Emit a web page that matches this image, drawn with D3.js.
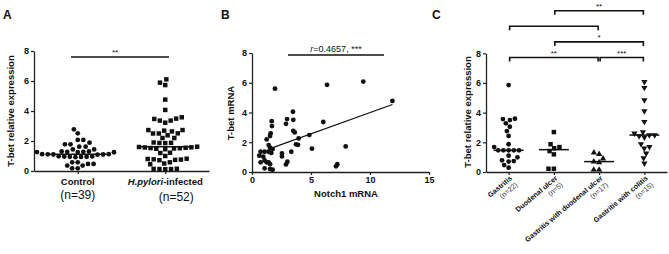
<!DOCTYPE html>
<html>
<head>
<meta charset="utf-8">
<script src="https://cdn.jsdelivr.net/npm/d3@7"></script>
<style>
  body { margin: 0; background: #fff; }
  text { font-family: "Liberation Sans", Arial, sans-serif; fill: #111; }
</style>
</head>
<body>
<script>
// ---- data ----
// panel A
var aCategories = ["Control", "H.pylori-infected"];
var aCounts = ["(n=39)", "(n=52)"];
var controlValues = [2.78, 2.51, 2.07, 2.07, 1.89, 1.78, 1.78, 1.62, 1.62, 1.44, 1.44,
    1.3, 1.3, 1.28, 1.28, 1.26, 1.26, 1.25,
    1.12, 1.12, 1.11, 1.1, 1.1, 1.09,
    0.98, 0.97, 0.96, 0.95, 0.95, 0.94, 0.92,
    0.58, 0.58, 0.47, 0.47, 0.36, 0.36, 0.18, 0.18];
var hpyloriValues = [6.11, 5.89, 5.73, 4.76, 4.07,
    3.58, 3.49, 3.47, 3.36, 3.36, 3.22,
    2.73, 2.73, 2.69, 2.64, 2.51, 2.5, 2.5, 2.38, 2.2, 2.2,
    1.9, 1.88, 1.87, 1.86,
    1.62, 1.6, 1.58, 1.57, 1.55, 1.53, 1.52, 1.5, 1.48, 1.45,
    1.22, 1.2, 1.0,
    0.82, 0.8, 0.78, 0.76, 0.74, 0.72,
    0.58, 0.5, 0.45,
    0.15, 0.14, 0.13, 0.13, 0.12];
var aSignif = "**";

// panel B
var notch1 = [1.95, 6.36, 9.43, 11.9, 3.47, 1.67, 2.97, 2.88, 3.5, 1.69, 6.04, 3.5, 3.62, 1.58, 1.53,
    4.86, 3.95, 1.24, 3.73, 3.9, 5.08, 7.94, 1.41, 1.53, 1.75, 1.41, 1.64, 1.07, 0.73, 0.62,
    0.96, 2.54, 2.54, 3.33, 3.0, 2.88, 0.73, 1.07, 1.24, 1.41, 1.53, 1.07, 1.53, 1.75, 7.23, 7.12];
var tbet = [5.6, 5.86, 6.08, 4.78, 4.05, 3.42, 3.56, 3.24, 3.51, 3.09, 3.36, 2.77, 2.66, 2.6, 2.42,
    2.48, 2.26, 2.19, 1.86, 1.83, 1.57, 1.72, 1.81, 1.63, 1.54, 1.36, 1.28, 1.36, 1.36, 1.1,
    1.03, 1.25, 1.05, 1.36, 0.69, 0.51, 0.65, 0.78, 0.65, 0.65, 0.52, 0.25, 0.2, 0.15, 0.52, 0.38];
var regX = [1.7, 11.9];
var regY = [1.62, 4.54];
var bXTicks = [0, 5, 10, 15];
var bLabel = "=0.4657, ***";

// panel C
var cCategories = ["Gastritis", "Duodenal ulcer", "Gastritis with duodenal ulcer", "Gastritis with colitis"];
var cCounts = ["(n=22)", "(n=5)", "(n=17)", "(n=15)"];
var gastritisValues = [5.86, 3.59, 3.57, 3.5, 3.28, 3.05, 2.76, 2.43, 1.87, 1.68,
    1.46, 1.46, 1.46, 1.46, 1.46, 1.1, 0.99, 0.79, 0.74, 0.7, 0.47, 0.29];
var duodenalValues = [2.69, 1.87, 1.68, 1.6, 1.41, 1.19, 0.22, 0.22];
var gwduValues = [1.3, 1.2, 0.9, 0.7, 0.65, 0.15, 0.15];
var gwcValues = [6.08, 5.68, 4.85, 4.11, 3.39, 2.69, 2.6, 2.49, 2.49, 2.42, 2.34,
    1.89, 1.7, 1.6, 1.26, 0.94, 0.58];
// [from, to, label, row]
var cBrackets = [[0, 2, "**", 0], [2, 3, "***", 0], [1, 3, "*", 1], [0, 2, "", 2], [1, 3, "**", 3]];

var yTicks = [0, 2, 4, 6, 8];

// ---- drawing ----
var svg = d3.select("body").append("svg")
    .attr("width", 669)
    .attr("height", 254);
svg.append("rect").attr("width", 669).attr("height", 254).attr("fill", "#fff");

// simple beeswarm: place each point as close to the centre as it can go
function swarm(values, y, diam) {
    var pts = values.map(function (v) { return { v: v, py: y(v), dx: 0 }; })
        .sort(function (a, b) { return a.v - b.v; });
    var placed = [];
    pts.forEach(function (p) {
        var ints = [];
        placed.forEach(function (q) {
            var dy = Math.abs(q.py - p.py);
            if (dy < diam) {
                var w = Math.sqrt(diam * diam - dy * dy);
                ints.push([q.dx - w, q.dx + w]);
            }
        });
        var cands = [0];
        ints.forEach(function (i) { cands.push(i[0], i[1]); });
        cands.sort(function (a, b) { return Math.abs(a) - Math.abs(b) || a - b; });
        for (var k = 0; k < cands.length; k++) {
            var c = cands[k];
            var ok = ints.every(function (i) { return c <= i[0] + 0.01 || c >= i[1] - 0.01; });
            if (ok) { p.dx = c; break; }
        }
        placed.push(p);
    });
    return pts;
}

function styleAxis(g) {
    g.select(".domain").attr("stroke", "#222").attr("stroke-width", 1.3);
    g.selectAll(".tick line").attr("stroke", "#222").attr("stroke-width", 1.2);
    g.selectAll(".tick text").attr("font-size", 9).attr("font-weight", "bold")
        .attr("font-family", "Liberation Sans, Arial, sans-serif").attr("fill", "#111");
}

function yTitle(x, y, txt) {
    svg.append("text")
        .attr("transform", "translate(" + x + "," + y + ") rotate(-90)")
        .attr("text-anchor", "middle")
        .attr("font-size", 9.5).attr("font-weight", "bold")
        .text(txt);
}

function panelLetter(x, y, t) {
    svg.append("text").attr("x", x).attr("y", y)
        .attr("font-size", 12).attr("font-weight", "bold").text(t);
}

var symCircle = d3.symbol().type(d3.symbolCircle).size(18);
var symSquare = d3.symbol().type(d3.symbolSquare).size(20);
var symTri = d3.symbol().type(d3.symbolTriangle).size(17);

function drawGroup(values, cx, y, sym, diam, rot, medHalf) {
    var pts = swarm(values, y, diam);
    svg.append("g").selectAll("path").data(pts).enter().append("path")
        .attr("d", sym)
        .attr("transform", function (d) {
            return "translate(" + (cx + d.dx) + "," + d.py + ")" + (rot ? " rotate(" + rot + ")" : "");
        })
        .attr("fill", "#111");
    var m = d3.median(values);
    svg.append("line")
        .attr("x1", cx - medHalf).attr("x2", cx + medHalf)
        .attr("y1", y(m)).attr("y2", y(m))
        .attr("stroke", "#111").attr("stroke-width", 1.5);
}

// ===== Panel A =====
var yA = d3.scaleLinear().domain([0, 8]).range([171, 51]);
var xA = d3.scalePoint().domain(aCategories).range([34, 209]).padding(0.5);

svg.append("g").attr("transform", "translate(34,0)")
    .call(d3.axisLeft(yA).tickValues(yTicks).tickSize(3).tickSizeOuter(0).tickPadding(2))
    .call(styleAxis);
svg.append("g").attr("transform", "translate(0,171)")
    .call(d3.axisBottom(xA).tickSize(3).tickSizeOuter(0).tickFormat(""))
    .call(styleAxis);

drawGroup(controlValues, xA(aCategories[0]), yA, symCircle, 5.6, 0, 29);
drawGroup(hpyloriValues, xA(aCategories[1]), yA, symSquare, 5.8, 0, 28);

yTitle(14, 111, "T-bet relative expression");
panelLetter(3, 19, "A");

svg.append("text").attr("x", xA(aCategories[0])).attr("y", 185)
    .attr("text-anchor", "middle").attr("font-size", 9.5).attr("font-weight", "bold")
    .text(aCategories[0]);
var hl = svg.append("text").attr("x", xA(aCategories[1])).attr("y", 185)
    .attr("text-anchor", "middle").attr("font-size", 9.5).attr("font-weight", "bold");
hl.append("tspan").attr("font-style", "italic").text(aCategories[1].split("-")[0]);
hl.append("tspan").text("-" + aCategories[1].split("-")[1]);

svg.append("text").attr("x", xA(aCategories[0])).attr("y", 199)
    .attr("text-anchor", "middle").attr("font-size", 12).attr("fill", "#333").text(aCounts[0]);
svg.append("text").attr("x", xA(aCategories[1]) + 11).attr("y", 201)
    .attr("text-anchor", "middle").attr("font-size", 12).attr("fill", "#333").text(aCounts[1]);

svg.append("line").attr("x1", 71).attr("x2", 169).attr("y1", 57).attr("y2", 57)
    .attr("stroke", "#111").attr("stroke-width", 1.6);
svg.append("text").attr("x", 115).attr("y", 55).attr("text-anchor", "middle")
    .attr("font-size", 8).text(aSignif);

// ===== Panel B =====
var yB = d3.scaleLinear().domain([0, 8]).range([172, 53]);
var xB = d3.scaleLinear().domain([0, 15]).range([252, 429]);

svg.append("g").attr("transform", "translate(252,0)")
    .call(d3.axisLeft(yB).tickValues(yTicks).tickSize(3).tickSizeOuter(0).tickPadding(2))
    .call(styleAxis);
svg.append("g").attr("transform", "translate(0,172)")
    .call(d3.axisBottom(xB).tickValues(bXTicks).tickSize(3).tickSizeOuter(0).tickPadding(2))
    .call(styleAxis);

svg.append("g").selectAll("circle").data(notch1).enter().append("circle")
    .attr("cx", function (d) { return xB(d); })
    .attr("cy", function (d, i) { return yB(tbet[i]); })
    .attr("r", 2.4)
    .attr("fill", "#111");

svg.append("line")
    .attr("x1", xB(regX[0])).attr("y1", yB(regY[0]))
    .attr("x2", xB(regX[1])).attr("y2", yB(regY[1]))
    .attr("stroke", "#111").attr("stroke-width", 1.2);

yTitle(234, 113, "T-bet mRNA");
svg.append("text").attr("x", 346).attr("y", 197).attr("text-anchor", "middle")
    .attr("font-size", 9.5).attr("font-weight", "bold").text("Notch1 mRNA");
panelLetter(221, 19, "B");

svg.append("line").attr("x1", 288).attr("x2", 384).attr("y1", 55).attr("y2", 55)
    .attr("stroke", "#111").attr("stroke-width", 1.6);
var rl = svg.append("text").attr("x", 336).attr("y", 52).attr("text-anchor", "middle")
    .attr("font-size", 9);
rl.append("tspan").attr("font-style", "italic").text("r");
rl.append("tspan").text(bLabel);

// ===== Panel C =====
var yC = d3.scaleLinear().domain([0, 8]).range([172, 53.3]);
var xC = d3.scalePoint().domain(cCategories).range([486, 667]).padding(0.5);

svg.append("g").attr("transform", "translate(486,0)")
    .call(d3.axisLeft(yC).tickValues(yTicks).tickSize(3).tickSizeOuter(0).tickPadding(2))
    .call(styleAxis);
svg.append("g").attr("transform", "translate(0,172)")
    .call(d3.axisBottom(xC).tickSize(3).tickSizeOuter(0).tickFormat(""))
    .call(styleAxis);

drawGroup(gastritisValues, xC(cCategories[0]), yC, symCircle, 5.2, 0, 15);
drawGroup(duodenalValues, xC(cCategories[1]), yC, symSquare, 5.4, 0, 15);
drawGroup(gwduValues, xC(cCategories[2]), yC, symTri, 5.4, 0, 15);
drawGroup(gwcValues, xC(cCategories[3]), yC, symTri, 5.4, 180, 15);

yTitle(471, 112, "T-bet relative expression");
panelLetter(432, 19, "C");

// rotated two-line category labels
cCategories.forEach(function (c, i) {
    var t = svg.append("text")
        .attr("transform", "translate(" + (xC(c) + 4) + ",179) rotate(-40)")
        .attr("text-anchor", "end")
        .attr("font-size", 7.2);
    t.append("tspan").attr("x", 0).attr("dy", 0).attr("font-weight", "bold").text(c);
    t.append("tspan").attr("x", 0).attr("dy", "1.2em").attr("fill", "#333").text(cCounts[i]);
});

cBrackets.forEach(function (b) {
    var x1 = xC(cCategories[b[0]]) + 1, x2 = xC(cCategories[b[1]]) - 1;
    var by = 57.5 - b[3] * 15.6;
    svg.append("path")
        .attr("d", "M" + x1 + "," + (by + 4) + "V" + by + "H" + x2 + "V" + (by + 4))
        .attr("fill", "none").attr("stroke", "#111").attr("stroke-width", 1.6);
    if (b[2]) {
        svg.append("text").attr("x", (x1 + x2) / 2).attr("y", by - 2)
            .attr("text-anchor", "middle").attr("font-size", 8).text(b[2]);
    }
});
</script>
</body>
</html>
